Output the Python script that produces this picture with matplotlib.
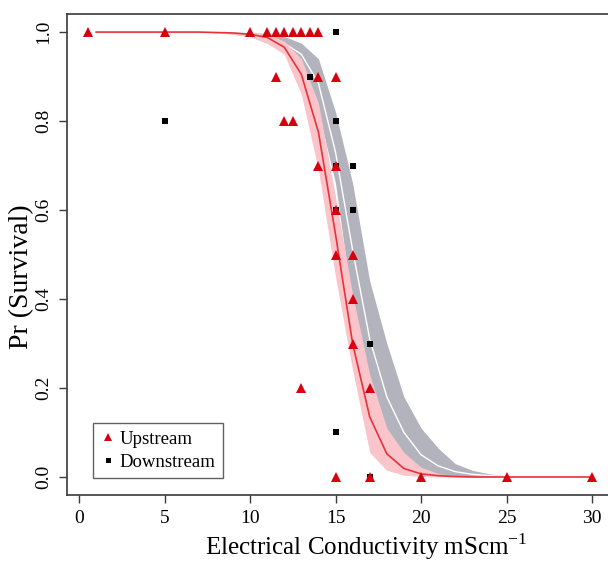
"""
Survival probability vs electrical conductivity, upstream vs downstream.
Logistic fits with confidence bands + observed proportions.
"""

import matplotlib
matplotlib.use("Agg")
import matplotlib.pyplot as plt

# ──────────────────────────────────────────────
# 0. DATI
# ──────────────────────────────────────────────
# griglia dei valori predetti
grid_x = [1, 2, 3, 4, 5, 6, 7, 8, 9, 10, 11, 12, 13, 14, 15,
          16, 17, 18, 19, 20, 21, 22, 23, 24, 25, 26, 27, 28, 29, 30]

up_fit = [1.0, 1.0, 1.0, 1.0, 1.0, 1.0, 1.0, 0.999, 0.998, 0.995,
          0.988, 0.966, 0.905, 0.775, 0.545, 0.30, 0.135, 0.052, 0.019, 0.007,
          0.003, 0.001, 0.0, 0.0, 0.0, 0.0, 0.0, 0.0, 0.0, 0.0]
up_lo = [1.0, 1.0, 1.0, 1.0, 1.0, 1.0, 1.0, 0.998, 0.995, 0.99,
         0.975, 0.95, 0.86, 0.69, 0.45, 0.24, 0.055, 0.015, 0.004, 0.001,
         0.0, 0.0, 0.0, 0.0, 0.0, 0.0, 0.0, 0.0, 0.0, 0.0]
up_hi = [1.0, 1.0, 1.0, 1.0, 1.0, 1.0, 1.0, 1.0, 1.0, 0.998,
         0.995, 0.98, 0.94, 0.84, 0.63, 0.41, 0.23, 0.11, 0.055, 0.022,
         0.008, 0.003, 0.001, 0.0, 0.0, 0.0, 0.0, 0.0, 0.0, 0.0]

down_fit = [1.0, 1.0, 1.0, 1.0, 1.0, 1.0, 1.0, 1.0, 0.998, 0.996,
            0.99, 0.975, 0.95, 0.885, 0.73, 0.51, 0.31, 0.18, 0.10, 0.05,
            0.025, 0.012, 0.006, 0.003, 0.001, 0.0, 0.0, 0.0, 0.0, 0.0]
down_lo = [1.0, 1.0, 1.0, 1.0, 1.0, 1.0, 1.0, 1.0, 0.995, 0.99,
           0.975, 0.955, 0.92, 0.82, 0.66, 0.38, 0.20, 0.10, 0.035, 0.013,
           0.005, 0.002, 0.001, 0.0, 0.0, 0.0, 0.0, 0.0, 0.0, 0.0]
down_hi = [1.0, 1.0, 1.0, 1.0, 1.0, 1.0, 1.0, 1.0, 1.0, 0.999,
           0.997, 0.99, 0.975, 0.94, 0.82, 0.66, 0.44, 0.30, 0.18, 0.11,
           0.065, 0.03, 0.015, 0.007, 0.003, 0.001, 0.0, 0.0, 0.0, 0.0]

# proporzioni osservate
up_x = [0.5, 5, 10, 11, 11.5, 12, 12.5, 13, 13.5, 14,
        11.5, 14, 15,
        12, 12.5,
        14, 15,
        15,
        15, 16,
        16,
        16,
        13, 17,
        15, 17, 20, 25, 30]
up_y = [1.0, 1.0, 1.0, 1.0, 1.0, 1.0, 1.0, 1.0, 1.0, 1.0,
        0.9, 0.9, 0.9,
        0.8, 0.8,
        0.7, 0.7,
        0.6,
        0.5, 0.5,
        0.4,
        0.3,
        0.2, 0.2,
        0.0, 0.0, 0.0, 0.0, 0.0]

down_x = [5, 13.5, 15, 15, 15, 15, 16, 16, 17, 15, 17]
down_y = [0.8, 0.9, 1.0, 0.8, 0.7, 0.6, 0.7, 0.6, 0.3, 0.1, 0.0]

x_ticks = [0, 5, 10, 15, 20, 25, 30]
y_ticks = [0.0, 0.2, 0.4, 0.6, 0.8, 1.0]

# ──────────────────────────────────────────────
# 1. STILE
# ──────────────────────────────────────────────
plt.rcParams["font.family"] = ["Liberation Serif", "DejaVu Serif"]
plt.rcParams["mathtext.fontset"] = "custom"
plt.rcParams["mathtext.rm"] = "Liberation Serif"

RED = "#D7000F"
LINE_RED = "#E8323A"
PINK = "#F9C5CA"
GREY = "#B3B3BD"
AX_COL = "#3a3a3a"

W, H = 608, 562
fig = plt.figure(figsize=(W / 100, H / 100), dpi=100)
ax = fig.add_axes([0.1109, 0.1196, 0.896, 0.855])

# ──────────────────────────────────────────────
# 2. BANDE E CURVE
# ──────────────────────────────────────────────
ax.fill_between(grid_x, down_lo, down_hi, color=GREY, lw=0, zorder=1)
ax.plot(grid_x, down_fit, color="white", lw=1.0, zorder=2)
ax.fill_between(grid_x, up_lo, up_hi, color=PINK, lw=0, zorder=3)
ax.plot(grid_x, up_fit, color=LINE_RED, lw=1.2, zorder=4)

# punti osservati
ax.plot(down_x, down_y, "s", color="black", ms=4.5, mew=0, zorder=5,
        label="Downstream")
ax.plot(up_x, up_y, "^", color=RED, ms=7, mew=0, zorder=6,
        label="Upstream")

# ──────────────────────────────────────────────
# 3. ASSI (stile R)
# ──────────────────────────────────────────────
ax.set_xlim(-0.68, 31.18)
ax.set_ylim(-0.04, 1.04)
ax.set_xticks(x_ticks)
ax.set_xticklabels([str(t) for t in x_ticks])
ax.set_yticks(y_ticks)
ax.set_yticklabels([f"{t:.1f}" for t in y_ticks], rotation=90, va="center")
ax.tick_params(direction="out", length=6, width=1, color=AX_COL,
               labelsize=14, pad=5)
for s in ax.spines.values():
    s.set_color(AX_COL)
    s.set_linewidth(1.2)

# etichette assi posizionate in pixel come nel riferimento
fig.text(366 / W, 1 - 555 / H,
         r"Electrical Conductivity mScm$^{\mathregular{-1}}$",
         fontsize=18, ha="center", va="baseline")
fig.text(22 / W, 1 - 277 / H, "Pr (Survival)", fontsize=20,
         rotation=90, ha="center", va="center")

h, l = ax.get_legend_handles_labels()
leg = ax.legend(h[::-1], l[::-1], loc="lower left",
                bbox_to_anchor=(0.0475, 0.0343), borderaxespad=0,
                fontsize=13.5, frameon=True, fancybox=False,
                handletextpad=0.2, handlelength=0.8, borderpad=0.4,
                labelspacing=0.3, markerscale=0.8)
leg.get_frame().set_edgecolor(AX_COL)
leg.get_frame().set_linewidth(1.0)

plt.savefig("out.png", dpi=100)
print("[OK] Salvato: out.png")
